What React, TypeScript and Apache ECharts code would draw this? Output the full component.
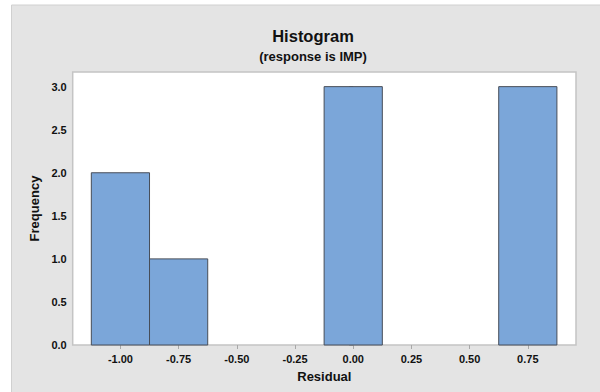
import React, { useEffect, useRef } from "react";
import * as echarts from "echarts";

const binCenters = [-1.0, -0.75, -0.5, -0.25, 0.0, 0.25, 0.5, 0.75];
const frequencies = [2, 1, 0, 0, 3, 0, 0, 3];
const binWidth = 0.25;
const xTicks = [-1.0, -0.75, -0.5, -0.25, 0.0, 0.25, 0.5, 0.75];
const yTicks = [0, 0.5, 1.0, 1.5, 2.0, 2.5, 3.0];

const FONT = "'Liberation Sans', Arial, sans-serif";

export default function App() {
  const ref = useRef<HTMLDivElement>(null);
  useEffect(() => {
    if (!ref.current) return;
    const chart = echarts.init(ref.current, null, { renderer: "svg" });
    const data = binCenters.map((c, i) => [c, frequencies[i]]);
    chart.setOption({
      animation: false,
      backgroundColor: "#ffffff",
      textStyle: { fontFamily: FONT },
      graphic: [
        {
          type: "rect",
          z: -10,
          silent: true,
          shape: { x: 11.5, y: 5, width: 600, height: 400 },
          style: { fill: "#e4e4e4", stroke: "#d0d0d0", lineWidth: 1 },
        },
      ],
      title: [
        {
          text: "Histogram",
          left: 308,
          top: 22,
          textAlign: "center",
          textStyle: { fontFamily: FONT, fontWeight: "bold", fontSize: 16.5, color: "#111" },
        },
        {
          text: "(response is IMP)",
          left: 308,
          top: 45,
          textAlign: "center",
          textStyle: { fontFamily: FONT, fontWeight: "bold", fontSize: 13, color: "#111" },
        },
      ],
      grid: {
        left: 72.7,
        right: 24,
        top: 72,
        bottom: 47,
        show: true,
        backgroundColor: "#ffffff",
        borderColor: "#c4c4c4",
        borderWidth: 1.5,
      },
      xAxis: {
        type: "value",
        min: -1.205,
        max: 0.957,
        name: "Residual",
        nameLocation: "middle",
        nameGap: 25,
        nameTextStyle: { fontFamily: FONT, fontWeight: "bold", fontSize: 13, color: "#111" },
        axisLine: { show: false },
        splitLine: { show: false },
        axisTick: {
          show: true,
          customValues: xTicks,
          length: 4,
          lineStyle: { color: "#a8a8a8" },
        },
        axisLabel: {
          customValues: xTicks,
          formatter: (v: number) => v.toFixed(2),
          fontFamily: FONT,
          fontWeight: "bold",
          fontSize: 11,
          color: "#111",
          margin: 8,
        },
      },
      yAxis: {
        type: "value",
        min: 0,
        max: 3.17,
        name: "Frequency",
        nameLocation: "middle",
        nameGap: 28,
        nameTextStyle: { fontFamily: FONT, fontWeight: "bold", fontSize: 13, color: "#111" },
        axisLine: { show: false },
        splitLine: { show: false },
        axisTick: {
          show: true,
          customValues: yTicks,
          length: 4,
          lineStyle: { color: "#a8a8a8" },
        },
        axisLabel: {
          customValues: yTicks,
          formatter: (v: number) => v.toFixed(1),
          fontFamily: FONT,
          fontWeight: "bold",
          fontSize: 11,
          color: "#111",
          margin: 6,
        },
      },
      series: [
        {
          type: "custom",
          data,
          encode: { x: 0, y: 1 },
          renderItem: (params: any, api: any) => {
            const c = api.value(0);
            const f = api.value(1);
            if (!f) return null;
            const p1 = api.coord([c - binWidth / 2, f]);
            const p2 = api.coord([c + binWidth / 2, 0]);
            return {
              type: "rect",
              shape: { x: p1[0], y: p1[1], width: p2[0] - p1[0], height: p2[1] - p1[1] },
              style: { fill: "#7ba6d9", stroke: "#474d58", lineWidth: 1 },
            };
          },
        },
      ],
    });
    return () => chart.dispose();
  }, []);
  return (
    <div
      ref={ref}
      style={{ position: "fixed", left: 0, top: 0, width: 600, height: 392 }}
    />
  );
}
